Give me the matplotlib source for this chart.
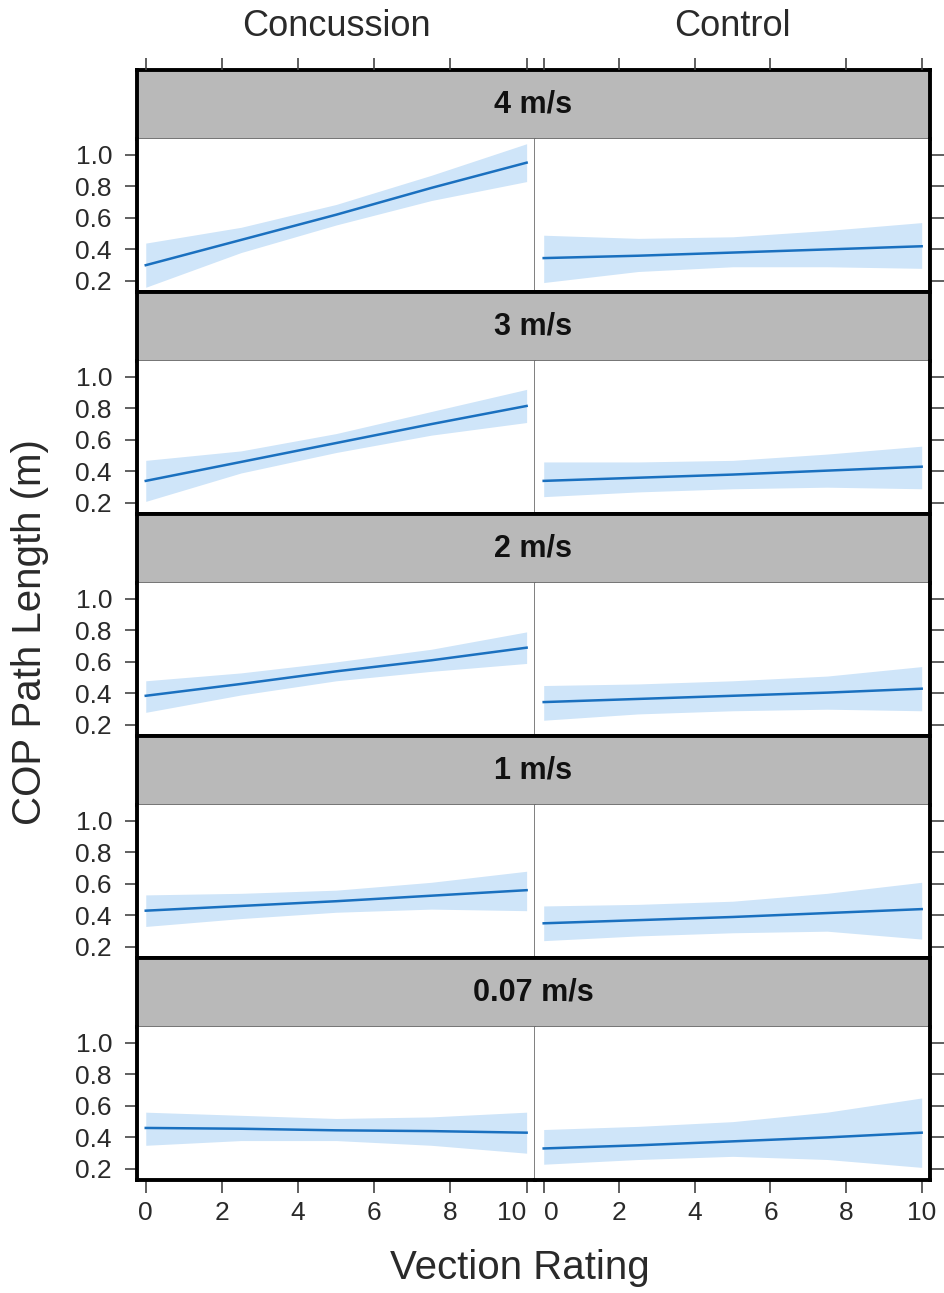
import matplotlib
matplotlib.use("Agg")
import matplotlib.pyplot as plt

plt.rcParams["font.family"] = ["Liberation Sans", "DejaVu Sans"]

SPEEDS = ["4 m/s", "3 m/s", "2 m/s", "1 m/s", "0.07 m/s"]
GROUPS = ["Concussion", "Control"]
VECTION = [0, 2.5, 5, 7.5, 10]

# fitted COP path length (m) and confidence band, one row per speed
CONC_FIT = [
    [0.30, 0.46, 0.62, 0.79, 0.95],
    [0.34, 0.46, 0.58, 0.70, 0.815],
    [0.385, 0.46, 0.54, 0.61, 0.69],
    [0.43, 0.46, 0.49, 0.525, 0.56],
    [0.46, 0.455, 0.445, 0.44, 0.43],
]
CONC_LO = [
    [0.16, 0.38, 0.555, 0.71, 0.83],
    [0.21, 0.39, 0.52, 0.63, 0.71],
    [0.28, 0.39, 0.48, 0.54, 0.59],
    [0.33, 0.38, 0.42, 0.44, 0.43],
    [0.35, 0.38, 0.38, 0.35, 0.30],
]
CONC_HI = [
    [0.44, 0.54, 0.685, 0.87, 1.07],
    [0.47, 0.53, 0.64, 0.78, 0.92],
    [0.48, 0.53, 0.60, 0.68, 0.79],
    [0.53, 0.54, 0.56, 0.61, 0.68],
    [0.56, 0.54, 0.52, 0.53, 0.56],
]
CTRL_FIT = [
    [0.345, 0.36, 0.38, 0.40, 0.42],
    [0.34, 0.36, 0.38, 0.405, 0.43],
    [0.345, 0.365, 0.385, 0.405, 0.43],
    [0.35, 0.37, 0.39, 0.415, 0.44],
    [0.33, 0.35, 0.375, 0.40, 0.43],
]
CTRL_LO = [
    [0.19, 0.26, 0.29, 0.29, 0.28],
    [0.24, 0.27, 0.29, 0.30, 0.29],
    [0.23, 0.27, 0.29, 0.30, 0.29],
    [0.24, 0.27, 0.29, 0.30, 0.25],
    [0.23, 0.26, 0.28, 0.26, 0.21],
]
CTRL_HI = [
    [0.49, 0.47, 0.48, 0.52, 0.57],
    [0.46, 0.46, 0.47, 0.51, 0.56],
    [0.45, 0.46, 0.48, 0.51, 0.57],
    [0.46, 0.47, 0.49, 0.54, 0.61],
    [0.45, 0.47, 0.50, 0.56, 0.65],
]

X_TICKS = [0, 2, 4, 6, 8, 10]
Y_TICKS = [0.2, 0.4, 0.6, 0.8, 1.0]

W, H = 944, 1293
LINE = "#1a70bf"
BAND = "#cfe5f9"
STRIP = "#b9b9b9"
FRAME_LW = 2.8
THIN = "#6a6a6a"
TXT = "#2a2a2a"


def box(x0, y0, x1, y1):
    return [x0 / W, 1 - y1 / H, (x1 - x0) / W, (y1 - y0) / H]


fig = plt.figure(figsize=(W / 100, H / 100), dpi=100)

cols = [(137, 535), (535, 930)]
top0, row_h, strip_h = 70, 222, 69
xlim = (-0.23, 10.22)
ylim = (0.13, 1.10)

for r, speed in enumerate(SPEEDS):
    top = top0 + r * row_h
    sax = fig.add_axes(box(cols[0][0], top, cols[1][1], top + strip_h))
    sax.set_facecolor(STRIP)
    sax.set_xticks([])
    sax.set_yticks([])
    for side in ["top", "left", "right"]:
        sax.spines[side].set_linewidth(FRAME_LW)
    sax.spines["bottom"].set_linewidth(1.2)
    sax.spines["bottom"].set_color(THIN)
    sax.text(0.5, 0.5, speed, transform=sax.transAxes, ha="center", va="center",
             fontsize=22, fontweight="bold", color="#111111")

    series = [(CONC_FIT[r], CONC_LO[r], CONC_HI[r]), (CTRL_FIT[r], CTRL_LO[r], CTRL_HI[r])]
    for c, (fit, lo, hi) in enumerate(series):
        ax = fig.add_axes(box(cols[c][0], top + strip_h, cols[c][1], top + row_h))
        ax.fill_between(VECTION, lo, hi, color=BAND, lw=0)
        ax.plot(VECTION, fit, color=LINE, lw=1.8)
        ax.set_xlim(*xlim)
        ax.set_ylim(*ylim)
        ax.spines["top"].set_visible(False)
        ax.spines["bottom"].set_linewidth(FRAME_LW)
        if c == 0:
            ax.spines["left"].set_linewidth(FRAME_LW)
            ax.spines["right"].set_linewidth(1.2)
            ax.spines["right"].set_color(THIN)
            ax.set_yticks(Y_TICKS)
            ax.set_yticklabels([f"{v:.1f}" for v in Y_TICKS])
            ax.tick_params(axis="y", left=True, right=False, length=9, width=1.2,
                           color="#444444", labelsize=19, labelcolor=TXT, pad=9)
        else:
            ax.spines["left"].set_visible(False)
            ax.spines["right"].set_linewidth(FRAME_LW)
            ax.set_yticks(Y_TICKS)
            ax.tick_params(axis="y", left=False, right=True, labelleft=False,
                           length=10, width=1.2, color="#444444")
        ax.set_xticks(X_TICKS)
        if r == len(SPEEDS) - 1:
            ax.tick_params(axis="x", length=9, width=1.2, color="#444444",
                           labelsize=19, labelcolor=TXT, pad=6)
            labels = ax.get_xticklabels()
            if c == 0:
                labels[-1].set_ha("right")
            else:
                labels[0].set_ha("left")
        else:
            ax.tick_params(axis="x", bottom=False, labelbottom=False)

# tick marks above the top row
for c in range(2):
    tax = fig.add_axes(box(cols[c][0], top0, cols[c][1], top0 + 1))
    tax.set_xlim(*xlim)
    tax.set_xticks(X_TICKS)
    tax.tick_params(axis="x", top=True, bottom=False, labelbottom=False,
                    length=9, width=1.2, color="#444444")
    tax.set_yticks([])
    tax.patch.set_visible(False)
    for s in tax.spines.values():
        s.set_visible(False)
    fig.text((cols[c][0] + cols[c][1]) / 2 / W, 1 - 27 / H, GROUPS[c],
             ha="center", va="center", fontsize=26, color=TXT)

fig.text(30 / W, 1 - 632 / H, "COP Path Length (m)", rotation=90,
         ha="center", va="center", fontsize=29, color=TXT)
fig.text(520 / W, 1 - 1268 / H, "Vection Rating", ha="center", va="center",
         fontsize=29, color=TXT)

fig.savefig("out.png", dpi=100)
plt.close(fig)
